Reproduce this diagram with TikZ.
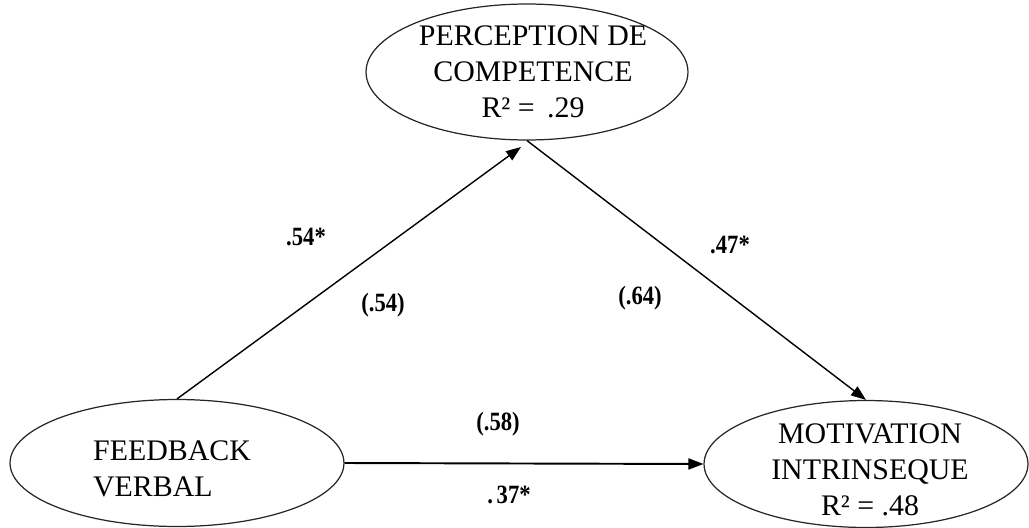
\documentclass[tikz,border=0pt]{standalone}
\usepackage{fontspec}
\setmainfont{Liberation Serif}
\usetikzlibrary{shapes.geometric,arrows.meta}
\newcommand{\cnd}[1]{\scalebox{0.86}[1]{#1}}
\begin{document}
\begin{tikzpicture}[x=0.02cm,y=-0.02cm,
  var/.style={draw=black!85,line width=0.7pt,ellipse,inner sep=0pt},
  vtext/.style={font=\fontsize{17}{20.5}\selectfont,inner sep=0pt},
  coef/.style={font=\fontsize{15}{17}\selectfont\bfseries,inner sep=0pt},
  path/.style={line width=0.8pt,-{Triangle[length=0.3cm,width=0.22cm]}}]
\useasboundingbox (0,0) rectangle (1029,528);
\node[var,minimum width=6.44cm,minimum height=2.72cm] (pc) at (527,72) {};
\node[var,minimum width=6.68cm,minimum height=2.54cm] (fb) at (177,463) {};
\node[var,minimum width=6.48cm,minimum height=2.54cm] (mi) at (866,464) {};
\node[vtext,align=center] (pct) at (533,72) {PERCEPTION DE\\COMPETENCE\\R² = \,.29};
\node[vtext,align=left] (fbt) at (172,469) {FEEDBACK\\VERBAL};
\node[vtext,align=center] (mit) at (870,470) {MOTIVATION\\INTRINSEQUE\\R² = .48};
\coordinate (tip1) at (521,147);
\draw[path] (fb.north) -- (tip1);
\draw[path] (pc.south) -- (mi.north);
\draw[path,line width=1.1pt] (fb.east) -- (mi.west);
\node[coef] (c1) at (306,237) {\cnd{.54*}};
\node[coef] (c2) at (383,305) {\cnd{(.54)}};
\node[coef] (c3) at (730,245) {\cnd{.47*}};
\node[coef] (c4) at (640,298) {\cnd{(.64)}};
\node[coef] (c5) at (498,424) {\cnd{(.58)}};
\node[coef] (c6) at (509,495) {\cnd{.\,37*}};
\end{tikzpicture}
\end{document}
